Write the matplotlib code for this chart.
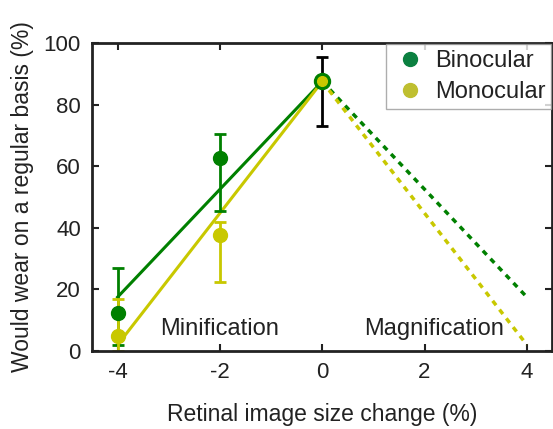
import matplotlib
matplotlib.use('Agg')
import matplotlib.pyplot as plt
import numpy as np

plt.rcParams['font.family'] = ['Liberation Sans', 'DejaVu Sans']
plt.rcParams['axes.unicode_minus'] = False

size_change = [-4, -2, 0]
bino_mean = [12.5, 62.5, 87.5]
bino_low = [2.0, 45.5, 73.0]
bino_high = [26.8, 70.5, 95.5]
mono_mean = [5.0, 37.5, 87.5]
mono_low = [0.0, 22.5, 73.0]
mono_high = [17.0, 41.8, 95.5]

fit_x = [-4, 0]
fit_x_mag = [0, 4]
bino_fit = [17.5, 87.5]
bino_fit_mag = [87.5, 17.5]
mono_fit = [2.0, 87.5]
mono_fit_mag = [87.5, 2.0]

green = '#008000'
yellow = '#c8c800'
txt = '#222222'

fig = plt.figure(figsize=(5.53, 4.29), dpi=100)
ax = fig.add_axes([0.1664, 0.1818, 0.8326, 0.718])

dots = (0, (1.6, 1.6))
ax.plot(fit_x, bino_fit, color=green, lw=2.2)
ax.plot(fit_x_mag, bino_fit_mag, color=green, lw=2.5, ls=dots)
ax.plot(fit_x, mono_fit, color=yellow, lw=2.2)
ax.plot(fit_x_mag, mono_fit_mag, color=yellow, lw=2.5, ls=dots)

bm = np.array(bino_mean)
mm = np.array(mono_mean)
# coloured bars at -4 and -2, one black bar at 0 (both groups share it)
ax.errorbar(size_change[:2], bm[:2], yerr=[bm[:2] - np.array(bino_low[:2]), np.array(bino_high[:2]) - bm[:2]],
            fmt='none', ecolor=green, elinewidth=2, capsize=4, capthick=2)
ax.errorbar(size_change[:2], mm[:2], yerr=[mm[:2] - np.array(mono_low[:2]), np.array(mono_high[:2]) - mm[:2]],
            fmt='none', ecolor=yellow, elinewidth=2, capsize=4, capthick=2)
ax.errorbar([size_change[2]], [bm[2]], yerr=[[bm[2] - bino_low[2]], [bino_high[2] - bm[2]]],
            fmt='none', ecolor='black', elinewidth=2, capsize=4, capthick=2)

ax.plot(size_change[:2], bino_mean[:2], 'o', color=green, ms=10, mec=green, zorder=5)
ax.plot(size_change[2:], bino_mean[2:], 'o', color=green, ms=11.5, mec=green, zorder=5)
ax.plot(size_change[:2], mono_mean[:2], 'o', color=yellow, ms=10, mec=yellow, zorder=6)
ax.plot(size_change[2:], mono_mean[2:], 'o', color=yellow, ms=7, mec=yellow, zorder=6)

ax.text(-2, 3.5, 'Minification', fontsize=17, ha='center', va='bottom', color=txt)
ax.text(2.18, 3.5, 'Magnification', fontsize=17, ha='center', va='bottom', color=txt)

h1, = ax.plot([], [], 'o', color='#0b8040', ms=10, label='Binocular')
h2, = ax.plot([], [], 'o', color='#bfbf30', ms=10, label='Monocular')
leg = ax.legend(handles=[h1, h2], loc='upper right', fontsize=17, frameon=True, fancybox=False,
                borderaxespad=0.05, handletextpad=0.3, borderpad=0.25, labelspacing=0.38, handlelength=1.5)
leg.get_frame().set_edgecolor('#999999')
leg.get_frame().set_linewidth(1)
for t in leg.get_texts():
    t.set_color(txt)

ax.set_xlim(-4.5, 4.5)
ax.set_ylim(0, 100)
ax.set_xticks([-4, -2, 0, 2, 4])
ax.set_yticks([0, 20, 40, 60, 80, 100])
ax.tick_params(direction='in', top=True, right=True, labelsize=16, length=5, width=1.5, colors=txt, pad=8)
for s in ax.spines.values():
    s.set_linewidth(2)
    s.set_color(txt)

ax.set_xlabel('Retinal image size change (%)', fontsize=16.5, color=txt, labelpad=14)
ax.set_ylabel('Would wear on a regular basis (%)', fontsize=16.5, color=txt, labelpad=7)

fig.savefig('out.png', dpi=100)
